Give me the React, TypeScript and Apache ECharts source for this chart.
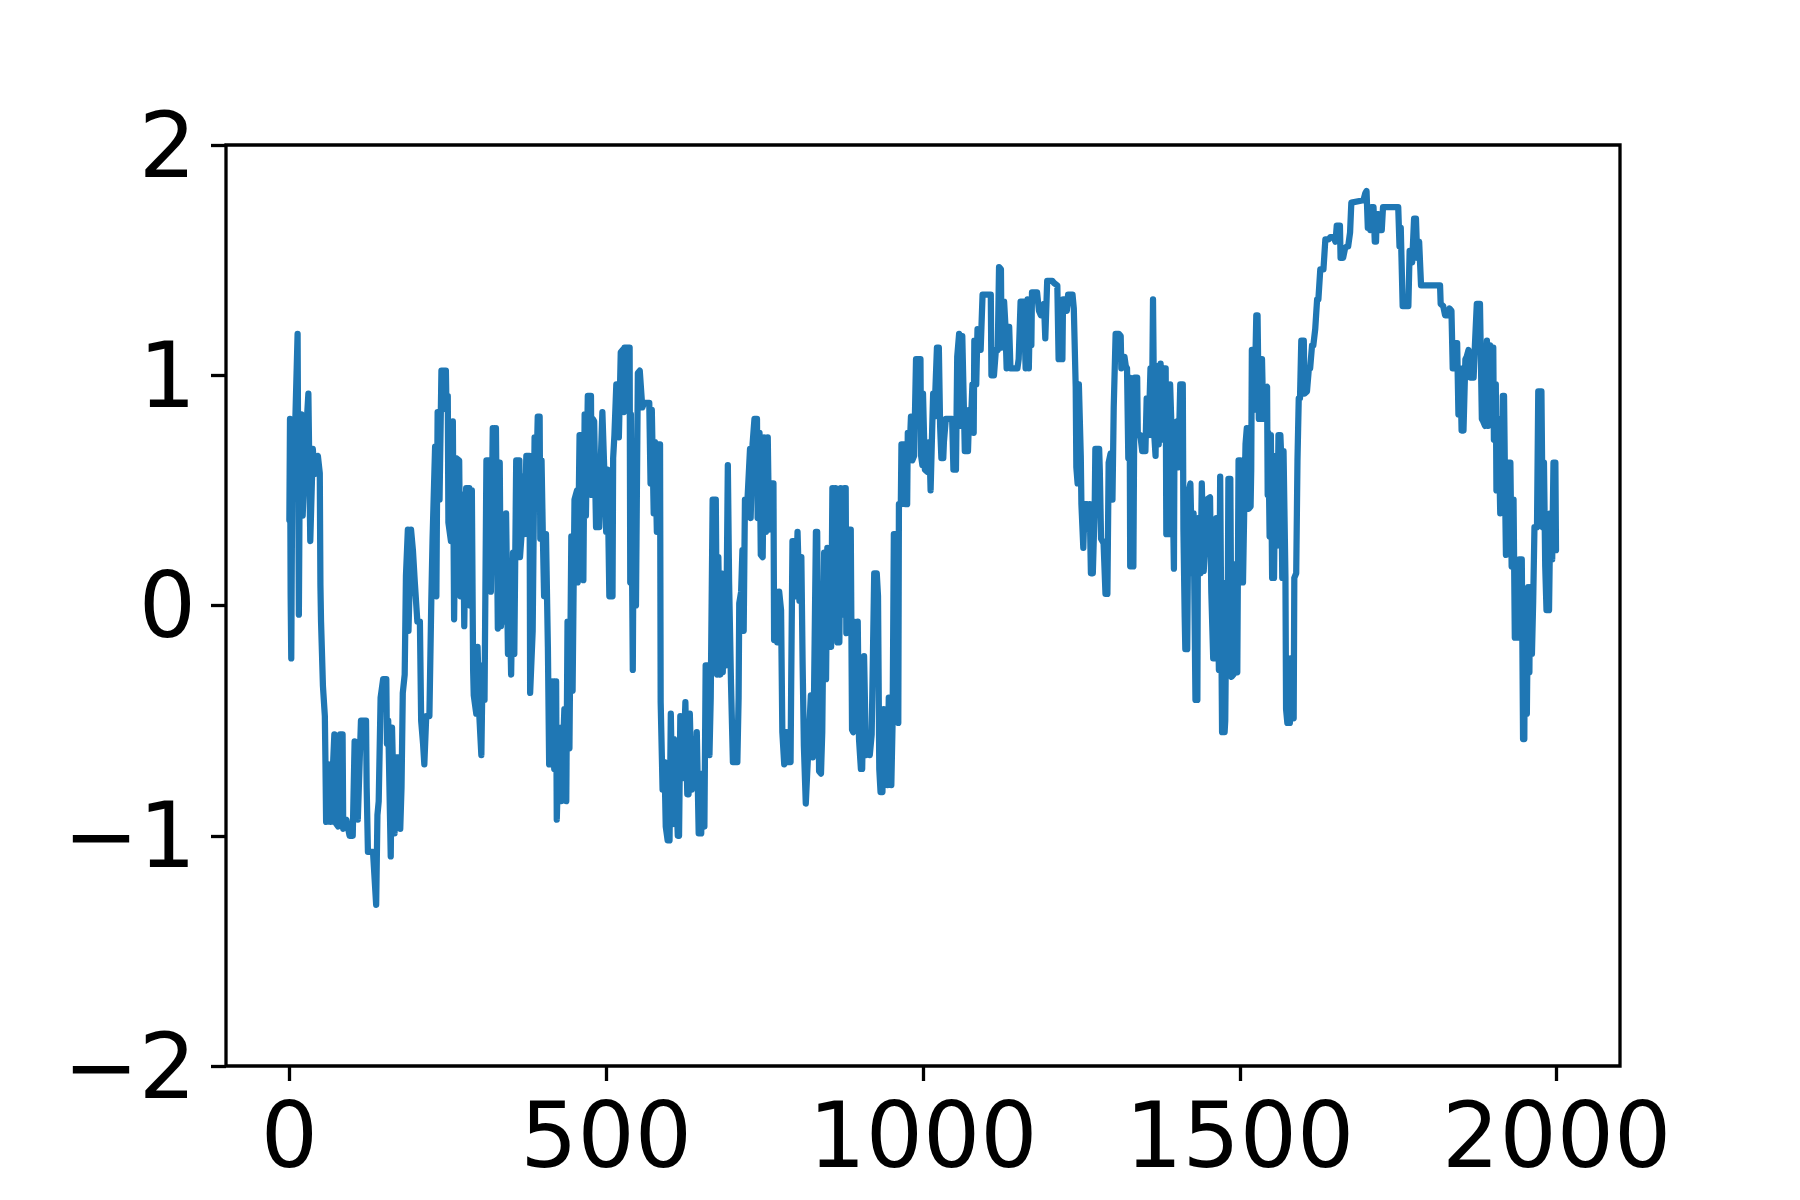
import React, { useEffect, useRef } from "react";
import * as echarts from "echarts";

// Signal, [index, value]
const seg1: [number, number][] = [
  [0,0.37],[1,0.81],[2,0.05],[3,-0.23],[5,0.8],[7,0.55],[13,1.18],[15,-0.04],[16,0.42],[19,0.83],[21,0.39],[25,0.68],[30,0.92],[33,0.28],[37,0.68],[40,0.57],[45,0.65],[48,0.575],[49,0.09],[50,-0.07],[53,-0.35],[56,-0.48],[57,-0.69],[58,-0.94],[62,-0.69],[65,-0.94],[71,-0.56],[72,-0.94],[77,-0.96],[80,-0.56],[84,-0.56],[85,-0.97],[90,-0.93],[95,-1.0],[100,-1.0],[103,-0.59],[108,-0.93],[113,-0.5],[121,-0.5],[122,-0.79],[124,-1.07],[132,-1.07],[137,-1.3],[139,-0.91],[141,-0.85],[144,-0.4],[148,-0.32],[153,-0.32],[154,-0.6],[156,-0.5],[160,-1.09],[162,-0.53],[166,-0.99],[169,-0.66],[174,-0.66],[175,-0.97],[177,-0.79],[179,-0.38],[182,-0.3],[184,0.13],[187,0.33],[188,-0.11],[192,0.33],[195,0.24],[198,0.1],[202,-0.07],[206,-0.07],[208,-0.5],[211,-0.6],[213,-0.69],[216,-0.48],[221,-0.48],[224,0.02],[226,0.29],[230,0.69],[232,0.04],[234,0.84],[237,0.46],[240,1.02],[247,1.02],[248,0.85],[250,0.91],[251,0.36],[255,0.28]
];
const seg2: [number, number][] = [
  [258,0.8],[260,-0.06],[263,0.64],[268,0.63],[270,0.04],[274,0.48],[276,-0.09],[279,0.51],[284,0.51],[285,0.0],[288,0.5],[290,-0.28],[291,-0.39],[295,-0.47],[297,-0.18],[300,-0.49],[303,-0.65],[305,-0.26],[308,-0.41],[311,0.63],[317,0.63],[318,0.06],[321,0.77],[324,0.42],[326,0.77],[329,-0.1],[332,0.62],[334,-0.09],[337,0.27],[340,-0.07],[342,0.4],[345,-0.21],[347,0.12],[350,-0.3],[353,0.23],[355,-0.21],[358,0.63],[363,0.63],[364,0.21],[366,0.29],[368,0.56],[371,0.31],[374,0.65],[379,0.65],[380,-0.38],[384,-0.11],[387,0.73],[389,0.46],[392,0.82],[395,0.82],[396,0.29],[398,0.63],[400,0.31],[402,0.04],[405,0.31],[408,-0.18],[410,-0.69],[413,-0.69],[416,-0.33],[418,-0.71],[421,-0.33],[422,-0.93],[426,-0.53],[429,-0.85],[434,-0.45],[437,-0.85],[439,-0.07],[442,-0.62],[445,0.3],[447,-0.37],[450,0.46],[454,0.5],[455,0.1],[458,0.74],[463,0.74],[464,0.11],[466,0.83],[468,0.39],[471,0.91],[476,0.91],[477,0.48],[479,0.81],[481,0.8],[484,0.34],[489,0.34],[491,0.59],[494,0.84],[497,0.59],[500,0.32],[502,0.59],[505,0.04],[510,0.04],[511,0.64],[513,0.74],[516,0.96],[518,0.96],[520,0.73],[522,0.97],[523,1.1],[526,1.11],[528,0.84],[529,1.12],[537,1.12],[538,0.1],[539,0.83],[542,-0.28],[544,0.7],[547,0.0],[550,1.01],[553,1.02]
];
const seg3: [number, number][] = [
  [557,0.86],[560,0.88],[568,0.88],[570,0.53],[572,0.85],[575,0.4],[577,0.71],[580,0.32],[582,0.7],[585,0.7],[586,-0.42],[589,-0.8],[592,-0.68],[594,-0.96],[597,-1.02],[600,-1.02],[602,-0.47],[605,-0.95],[607,-0.58],[610,-0.76],[613,-1.0],[615,-1.0],[617,-0.48],[620,-0.75],[622,-0.68],[625,-0.42],[628,-0.82],[630,-0.82],[632,-0.47],[635,-0.8],[638,-0.58],[641,-0.79],[643,-0.55],[646,-0.99],[650,-0.99],[651,-0.73],[655,-0.96],[657,-0.26],[660,-0.26],[663,-0.65],[665,-0.4],[668,0.46],[673,0.46],[675,-0.3],[677,0.21],[680,-0.3],[682,0.14],[684,-0.29],[686,0.06],[689,-0.26],[692,0.61],[694,0.1],[697,-0.34],[700,-0.68],[707,-0.68],[709,-0.4],[710,0.01],[713,0.06],[715,0.24],[717,-0.11],[719,0.46],[723,0.46],[727,0.68],[728,0.38],[731,0.7],[734,0.81],[738,0.81],[739,0.38],[742,0.75],[744,0.22],[747,0.21],[749,0.73],[752,0.32],[755,0.73],[757,0.33],[760,0.53],[764,0.53],[765,-0.15],[768,0.06],[770,-0.16],[773,0.06],[776,-0.02],[778,-0.55],[781,-0.69],[784,-0.55],[786,-0.68],[791,-0.68],[792,-0.33],[794,0.28],[797,0.28],[799,0.04],[802,0.32],[805,0.02],[808,0.21],[810,-0.25],[812,-0.61],[815,-0.86],[823,-0.39],[826,-0.66],[828,-0.39],[831,0.32],[833,0.32],[836,-0.72]
];
const seg4: [number, number][] = [
  [839,-0.73],[841,-0.55],[844,0.23],[847,-0.32],[849,0.25],[852,-0.13],[855,-0.18],[857,0.51],[860,-0.07],[862,0.51],[865,-0.16],[868,-0.16],[870,0.51],[873,-0.04],[876,0.51],[878,0.51],[879,-0.12],[881,-0.11],[883,0.33],[886,0.33],[888,-0.54],[890,-0.55],[891,-0.07],[894,-0.35],[897,-0.07],[899,-0.58],[902,-0.71],[904,-0.71],[907,-0.22],[910,-0.65],[912,-0.56],[916,-0.65],[919,-0.56],[923,0.14],[927,0.14],[929,0.04],[931,-0.71],[933,-0.81],[936,-0.81],[938,-0.45],[941,-0.55],[944,-0.78],[946,-0.4],[950,-0.78],[952,-0.51],[954,0.31],[957,0.31],[959,0.1],[961,-0.51],[962,0.44],[965,0.44],[966,0.7],[970,0.7],[972,0.44],[975,0.44],[976,0.75],[980,0.75],[981,0.82],[983,0.63],[986,0.65],[989,1.07],[996,1.07],[997,0.65],[999,0.61],[1000,0.92],[1003,0.59],[1007,0.58],[1010,0.71],[1012,0.5],[1015,0.82],[1016,0.92],[1018,0.82],[1022,1.12],[1025,1.12],[1027,0.78],[1029,0.64],[1032,0.64],[1033,0.71],[1036,0.81],[1046,0.81],[1048,0.59],[1052,0.59],[1053,0.83],[1054,1.08],[1057,1.18],[1059,0.78],[1062,1.17],[1065,0.8],[1066,0.67],[1071,0.67],[1073,0.85],[1075,0.75],[1078,0.96],[1080,0.75],[1081,1.15],[1084,0.96],[1086,1.2],[1088,1.19],[1091,1.11],[1094,1.35],[1107,1.35],[1108,1.0],[1112,1.0],[1115,1.11],[1118,1.11],[1120,1.47]
];
const seg5: [number, number][] = [
  [1123,1.46],[1124,1.12],[1125,1.16],[1128,1.32],[1130,1.22],[1132,1.03],[1136,1.21],[1138,1.03],[1149,1.03],[1151,1.07],[1154,1.32],[1159,1.32],[1162,1.03],[1165,1.33],[1167,1.03],[1169,1.33],[1171,1.13],[1172,1.36],[1180,1.36],[1183,1.28],[1186,1.26],[1190,1.26],[1191,1.31],[1193,1.16],[1196,1.41],[1204,1.41],[1207,1.4],[1212,1.39],[1214,1.07],[1220,1.07],[1221,1.33],[1225,1.33],[1227,1.28],[1229,1.35],[1236,1.35],[1238,1.29],[1241,0.95],[1242,0.6],[1244,0.53],[1246,0.96],[1249,0.65],[1250,0.44],[1253,0.25],[1255,0.44],[1259,0.44],[1260,0.33],[1263,0.44],[1265,0.14],[1268,0.14],[1271,0.43],[1272,0.68],[1278,0.68],[1279,0.59],[1281,0.29],[1285,0.27],[1288,0.05],[1291,0.05],[1293,0.62],[1296,0.66],[1299,0.46],[1301,0.86],[1304,1.18],[1309,1.18],[1312,1.17],[1313,1.03],[1315,1.08],[1318,1.08],[1320,1.04],[1322,1.03],[1324,0.64],[1326,0.99],[1327,0.17],[1332,0.17],[1333,0.62],[1334,0.99],[1338,0.99],[1339,0.74],[1343,0.74],[1346,0.67],[1351,0.67],[1353,0.9],[1355,0.9],[1356,0.74],[1359,1.03],[1361,0.74],[1363,1.33],[1365,0.74],[1367,0.65],[1369,1.04],[1372,0.7],[1375,1.05],[1377,0.72],[1380,1.03],[1383,1.03],[1384,0.31],[1388,0.31],[1390,0.96],[1393,0.7],[1396,0.16],[1397,0.79]
];
const seg6: [number, number][] = [
  [1401,0.8],[1403,0.6],[1406,0.96],[1410,0.96],[1411,0.33],[1413,-0.05],[1414,-0.19],[1417,-0.19],[1419,0.49],[1422,0.53],[1425,0.14],[1427,0.4],[1430,-0.41],[1433,-0.41],[1434,0.38],[1438,0.14],[1440,0.53],[1443,0.15],[1446,0.29],[1448,0.46],[1453,0.47],[1455,0.06],[1458,-0.23],[1461,-0.23],[1463,0.38],[1467,-0.28],[1469,0.56],[1472,-0.55],[1476,-0.55],[1477,-0.5],[1479,0.1],[1481,0.06],[1482,0.55],[1485,0.55],[1487,-0.31],[1490,-0.3],[1493,0.18],[1496,-0.29],[1498,0.63],[1501,0.63],[1502,0.1],[1505,0.1],[1507,0.42],[1509,0.7],[1511,0.77],[1514,0.42],[1517,0.43],[1518,0.59],[1519,1.11],[1522,1.11],[1523,0.85],[1526,1.26],[1528,1.26],[1530,0.81],[1533,0.81],[1535,1.07],[1537,0.81],[1539,0.94],[1543,0.95],[1544,0.48],[1545,0.75],[1547,0.3],[1549,0.74],[1551,0.12],[1554,0.12],[1556,0.65],[1559,0.26],[1561,0.74],[1564,0.74],[1565,0.67],[1567,0.12],[1569,0.67],[1572,0.12],[1573,-0.45],[1575,-0.51],[1579,-0.51],[1580,-0.23],[1582,-0.49],[1585,-0.49],[1586,0.12],[1589,0.14],[1591,0.63],[1593,0.9],[1595,0.9],[1597,1.15],[1601,1.15],[1602,0.92],[1606,0.93],[1609,1.03],[1611,1.03],[1614,1.13],[1616,1.13],[1619,1.2],[1622,1.33],[1624,1.33],[1627,1.46],[1632,1.46],[1635,1.59],[1640,1.59],[1643,1.6],[1648,1.6],[1651,1.58],[1653,1.65],[1658,1.65],[1659,1.51],[1663,1.51],[1666,1.55],[1669,1.56],[1671,1.56],[1674,1.62],[1676,1.75]
];
const seg7: [number, number][] = [
  [1695,1.76],[1698,1.79],[1700,1.8],[1702,1.64],[1703,1.7],[1706,1.63],[1708,1.73],[1711,1.73],[1713,1.58],[1715,1.58],[1716,1.7],[1719,1.7],[1722,1.63],[1724,1.63],[1726,1.73],[1750,1.73],[1752,1.56],[1754,1.64],[1757,1.3],[1766,1.3],[1768,1.54],[1772,1.49],[1775,1.68],[1778,1.68],[1780,1.51],[1783,1.58],[1786,1.39],[1816,1.39],[1817,1.31],[1821,1.3],[1824,1.26],[1828,1.26],[1831,1.29],[1834,1.28],[1836,1.03],[1840,1.03],[1841,1.14],[1843,1.14],[1845,0.83],[1848,1.03],[1850,0.76],[1853,0.76],[1856,1.07],[1858,1.08],[1861,1.11],[1864,0.99],[1869,0.99],[1871,1.13],[1874,1.31],[1879,1.31],[1882,0.81],[1884,0.8],[1887,0.78],[1890,1.15],[1892,0.78],[1895,1.13],[1898,0.96],[1900,1.12],[1901,0.72],[1904,0.96],[1905,0.5],[1908,0.81],[1911,0.4],[1913,0.42],[1915,0.91],[1917,0.91],[1919,0.42],[1920,0.22],[1922,0.62],[1927,0.62],[1929,0.17],[1932,0.46],[1934,-0.14],[1939,-0.14],[1941,0.2],[1945,0.2],[1947,-0.58],[1949,-0.58],[1950,0.03],[1953,-0.47],[1955,0.08],[1957,-0.29],[1958,0.08],[1961,-0.21],[1963,0.02],[1965,0.34],[1969,0.34],[1971,0.93],[1976,0.93],[1978,0.34],[1980,0.62],[1982,0.17],[1984,-0.02],[1988,-0.02],[1990,0.4],[1993,0.2],[1995,0.62],[1998,0.62],[1999,0.24]
];

const xTicks = [0, 500, 1000, 1500, 2000];
const yTicks = [-2, -1, 0, 1, 2];

const fmt = (v: number) => (v < 0 ? "\u2212" + Math.abs(v) : String(v));

export default function App() {
  const ref = useRef<HTMLDivElement>(null);
  useEffect(() => {
    const chart = echarts.init(ref.current!, null, { renderer: "svg" });
    const data = [...seg1, ...seg2, ...seg3, ...seg4, ...seg5, ...seg6, ...seg7];
    const labelStyle = {
      fontSize: 90,
      fontFamily: "DejaVu Sans",
      color: "#000",
    };
    chart.setOption({
      animation: false,
      backgroundColor: "#fff",
      grid: {
        left: 226,
        top: 145,
        width: 1394,
        height: 921,
        show: true,
        borderColor: "#000",
        borderWidth: 3.3,
        backgroundColor: "transparent",
      },
      xAxis: {
        type: "value",
        min: -100,
        max: 2100,
        splitLine: { show: false },
        axisLine: { show: false, onZero: false },
        axisTick: {
          show: true,
          customValues: xTicks,
          length: 15,
          lineStyle: { color: "#000", width: 3.3 },
        },
        axisLabel: {
          ...labelStyle,
          customValues: xTicks,
          margin: 24,
          formatter: fmt,
          hideOverlap: false,
        },
      },
      yAxis: {
        type: "value",
        min: -2,
        max: 2,
        interval: 1,
        splitLine: { show: false },
        axisLine: { show: false, onZero: false },
        axisTick: {
          show: true,
          customValues: yTicks,
          length: 15,
          lineStyle: { color: "#000", width: 3.3 },
        },
        axisLabel: {
          ...labelStyle,
          customValues: yTicks,
          margin: 30,
          formatter: fmt,
          hideOverlap: false,
        },
      },
      series: [
        {
          type: "line",
          data,
          showSymbol: false,
          symbol: "none",
          lineStyle: { color: "#1f77b4", width: 6.25, cap: "round", join: "round" },
          itemStyle: { color: "#1f77b4" },
        },
      ],
    });
    return () => chart.dispose();
  }, []);
  return (
    <div
      ref={ref}
      style={{ position: "fixed", left: 0, top: 0, width: 1800, height: 1200, background: "#fff" }}
    />
  );
}
